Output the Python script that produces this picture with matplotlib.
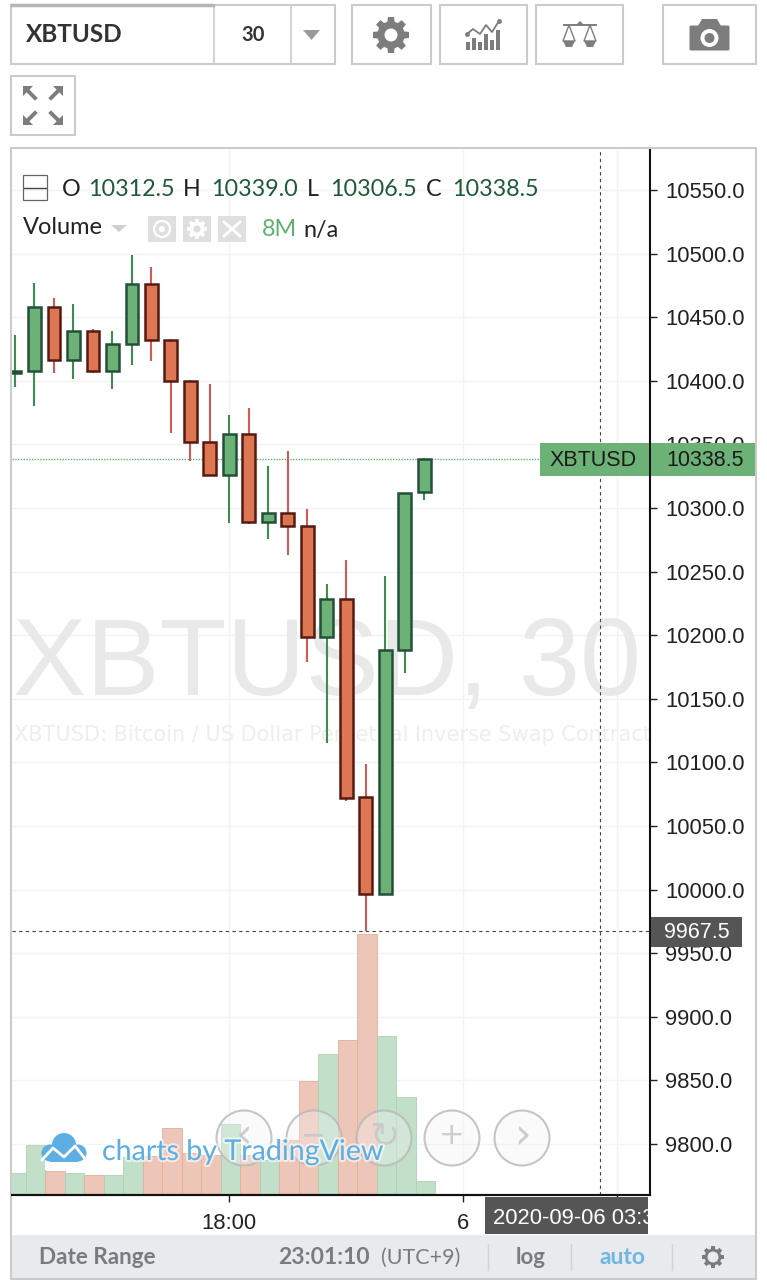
import numpy as np
import matplotlib
matplotlib.use("Agg")
import matplotlib.pyplot as plt
import matplotlib.patheffects as pe
from matplotlib.patches import Rectangle, Circle, Polygon, FancyBboxPatch

# ---- data ----
opens = [10406.4, 10408.0, 10458.3, 10416.0, 10439.0, 10408.0, 10429.0, 10475.9, 10432.0, 10400.0, 10352.0,
         10326.0, 10358.4, 10289.0, 10295.8, 10286.0, 10198.8, 10228.2, 10072.6, 9996.5, 10188.0, 10312.5]
highs = [10436.0, 10476.7, 10464.9, 10460.0, 10441.0, 10439.0, 10499.0, 10489.2, 10432.6, 10400.3, 10397.5,
         10373.3, 10378.4, 10333.3, 10344.6, 10299.5, 10240.0, 10259.0, 10099.0, 10246.5, 10312.0, 10339.0]
lows = [10395.0, 10380.4, 10406.0, 10401.2, 10406.0, 10393.3, 10412.4, 10415.6, 10359.2, 10337.0, 10326.0,
        10288.4, 10287.0, 10275.9, 10262.8, 10179.0, 10115.0, 10070.0, 9967.5, 9996.5, 10170.0, 10306.5]
closes = [10408.0, 10458.3, 10416.0, 10439.0, 10408.0, 10429.0, 10475.9, 10432.0, 10400.0, 10351.7, 10326.0,
          10358.4, 10289.0, 10295.8, 10285.8, 10198.8, 10228.2, 10072.0, 9996.5, 10188.4, 10312.0, 10338.5]
volumes = [2.0, 4.8, 2.2, 2.0, 1.8, 1.8, 3.6, 3.7, 6.5, 4.0, 3.8,
           6.9, 3.8, 3.3, 5.3, 11.2, 13.9, 15.3, 25.9, 15.7, 9.6, 1.2]
price_ticks = [9800, 9850, 9900, 9950, 10000, 10050, 10100, 10150, 10200, 10250, 10300, 10350, 10400, 10450, 10500, 10550]
time_ticks = [11, 23, 30.9]
time_labels = ["18:00", "6", ""]
last_price = 10338.5
cross_price = 9967.5
cross_index = 30.0

W, H = 767, 1280
GREEN, GREEN_E, GREEN_W = "#6cb276", "#24503a", "#3f8c50"
RED, RED_E, RED_W = "#dd7652", "#571a12", "#d05a58"
LEG_FONT = ["Lato", "DejaVu Sans"]
AX_FONT = ["Liberation Sans", "DejaVu Sans"]

fig = plt.figure(figsize=(W / 100, H / 100), dpi=100, facecolor="white")
L, R, T, B = 12, 650, 150, 1195
pos = [L / W, 1 - B / H, (R - L) / W, (B - T) / H]

# ---- price pane ----
ax = fig.add_axes(pos, zorder=1)
ax.set_xlim(-0.154, 32.58)
ax.set_ylim(9759.9, 10581.4)
ax.set_facecolor("white")
for s in ("left", "top"):
    ax.spines[s].set_visible(False)
for s in ("right", "bottom"):
    ax.spines[s].set_linewidth(1.5)
    ax.spines[s].set_color("#111111")
ax.yaxis.tick_right()
ax.set_yticks(price_ticks, [f"{p:.1f}" for p in price_ticks], fontsize=15.8, family=AX_FONT, color="#222222")
ax.set_xticks(time_ticks, time_labels, fontsize=15.8, family=AX_FONT, color="#222222")
ax.tick_params(axis="y", length=5, width=1, pad=6, color="#222222")
ax.tick_params(axis="x", length=5, width=1, pad=8, color="#222222")
ax.grid(True, color="#f2f3f5", lw=1)
ax.set_axisbelow(True)

ax.text(0.002, (B - 695) / (B - T), "XBTUSD, 30", transform=ax.transAxes, ha="left", va="baseline", fontsize=79,
        family=AX_FONT, color="#e9e9e9", zorder=1, clip_on=True)
ax.text(0.003, (B - 741) / (B - T), "XBTUSD: Bitcoin / US Dollar Perpetual Inverse Swap Contract",
        transform=ax.transAxes, ha="left", va="baseline", fontsize=15, family="DejaVu Sans",
        color="#eeeeee", zorder=1, clip_on=True)

x = np.arange(len(opens))
for i in x:
    up = closes[i] >= opens[i]
    ax.vlines(i, lows[i], highs[i], color=GREEN_W if up else RED_W, lw=1.5, zorder=3)
    bot, top = sorted((opens[i], closes[i]))
    ax.bar(i, top - bot, bottom=bot, width=0.66, color=GREEN if up else RED,
           edgecolor=GREEN_E if up else RED_E, lw=1.8, zorder=4)

# ---- current price + crosshair ----
ax.axhline(last_price, color="#5fb36d", lw=1.0, ls=(0, (1, 1)), zorder=2)
ax.axhline(cross_price, color="#444444", lw=0.8, ls=(0, (3, 3)), zorder=5)
ax.axvline(cross_index, color="#444444", lw=0.8, ls=(0, (3, 3)), zorder=5)

# ---- volume pane ----
vol = fig.add_axes(pos, zorder=2, sharex=ax, frameon=False)
vol.set_ylim(-0.17, 104.3)
vol.bar(x + 0.05, volumes, width=1.0,
        color=["#bfdfc6" if c >= o else "#eec3b3" for o, c in zip(opens, closes)],
        edgecolor=["#add2b4" if c >= o else "#e3ad9a" for o, c in zip(opens, closes)], lw=0.6, alpha=0.95)
vol.axis("off")

# ---- interface chrome, in pixels ----
ui = fig.add_axes([0, 0, 1, 1], zorder=3)
ui.set_xlim(0, W)
ui.set_ylim(H, 0)
ui.axis("off")
BORDER = "#c9cbcd"
ICON = "#7d7d7d"


def box(x0, y0, x1, y1, fc="none", ec=BORDER, lw=1.5, z=2, alpha=None):
    ui.add_patch(Rectangle((x0, y0), x1 - x0, y1 - y0, fc=fc, ec=ec, lw=lw, zorder=z, alpha=alpha))


def label(px, py, s, size, color="#222222", font=LEG_FONT, ha="left", **kw):
    return ui.text(px, py, s, fontsize=size, color=color, family=font, ha=ha, va="center", zorder=8, **kw)


# toolbar
box(11, 5, 335, 64)
ui.plot([214, 214], [5, 64], color=BORDER, lw=1.2)
ui.plot([291, 291], [5, 64], color=BORDER, lw=1.2)
ui.plot([12, 213], [5, 5], color="#b5b5b5", lw=2.5)
box(352, 5, 431, 64)
box(440, 5, 527, 64)
box(536, 5, 623, 64)
box(663, 5, 756, 64)
box(11, 76, 75, 135)
label(26, 35, "XBTUSD", 17.5, color="#333333", weight="bold")
label(253, 35, "30", 14.5, color="#333333", ha="center", weight="bold")
ui.add_patch(Polygon([[303, 30], [320, 30], [311.5, 40]], fc="#9a9a9a", ec="none"))


def gear(cx, cy, r, fc, hole="white", n=8, hr=.36):
    for a in np.arange(n) * 2 * np.pi / n:
        d = np.array([np.cos(a), np.sin(a)])
        p = np.array([-d[1], d[0]])
        c = np.array([cx, cy])
        ui.add_patch(Polygon([c + d * r * .7 + p * r * .2, c + d * r + p * r * .17,
                              c + d * r - p * r * .17, c + d * r * .7 - p * r * .2], fc=fc, ec="none", zorder=3))
    ui.add_patch(Circle((cx, cy), r * .76, fc=fc, ec="none", zorder=3))
    ui.add_patch(Circle((cx, cy), r * hr, fc=hole, ec="none", zorder=4))


gear(391, 35, 18, ICON)
# indicators icon
for bx, bh in zip([468, 474, 480, 486, 492, 498], [8, 12, 8, 16, 10, 20]):
    ui.add_patch(Rectangle((bx - 2, 50 - bh), 4, bh, fc=ICON, ec="none"))
ui.plot([467, 473, 480, 486, 492, 499], [34, 29, 34, 25, 32, 21], color=ICON, lw=1.3)
ui.plot([467, 499], [34, 21], ls="none", marker="o", ms=2.5, color=ICON)
# scales icon
ui.plot([564, 596], [25, 25], color=ICON, lw=1.4)
ui.plot([569, 563, 575, 569], [25, 41, 41, 25], color=ICON, lw=1.0)
ui.plot([590, 584, 596, 590], [25, 41, 41, 25], color=ICON, lw=1.0)
ui.add_patch(Polygon([[563, 41], [575, 41], [572, 47], [566, 47]], fc=ICON, ec="none"))
ui.add_patch(Polygon([[584, 41], [596, 41], [593, 47], [587, 47]], fc=ICON, ec="none"))
ui.add_patch(Polygon([[576, 25], [584, 25], [580, 21]], fc=ICON, ec="none"))
# camera icon
ui.add_patch(FancyBboxPatch((691, 27), 37, 22, boxstyle="round,pad=1.5", fc=ICON, ec="none"))
ui.add_patch(Polygon([[698, 26], [702, 19], [717, 19], [721, 26]], fc=ICON, ec="none"))
ui.add_patch(Circle((709.5, 38), 9, fc="white", ec="none", zorder=3))
ui.add_patch(Circle((709.5, 38), 5, fc=ICON, ec="none", zorder=4))
# expand icon
for (cx, cy, sx, sy) in [(30, 93, -1, -1), (56, 93, 1, -1), (30, 118, -1, 1), (56, 118, 1, 1)]:
    ui.add_patch(Polygon([[cx + sx * 7, cy + sy * 7], [cx + sx * 7, cy - sy * 3], [cx - sx * 3, cy + sy * 7]],
                         fc=ICON, ec="none"))
    ui.plot([cx + sx * 3, cx - sx * 5], [cy + sy * 3, cy - sy * 5], color=ICON, lw=2.8)

# chart frame + footer
box(12, 1235, 755, 1278, fc="#e9eaee", ec="none", z=1)
box(11, 148, 756, 1279, lw=1.5, z=2)
ui.plot([12, 650], [1195, 1195], color="#111111", lw=1.5)

# legend
box(23, 175, 47, 200, ec="#666666", lw=0.9, z=5)
ui.plot([24, 46], [188, 188], color="#444444", lw=1)
for px, s, dark in [(62, "O", 1), (88, "10312.5", 0), (183, "H", 1), (211, "10339.0", 0), (307, "L", 1),
                    (330, "10306.5", 0), (426, "C", 1), (452, "10338.5", 0)]:
    label(px, 189, s, 16.8, color="#222222" if dark else "#1f5a38")
label(23, 228, "Volume", 17, color="#222222")
ui.add_patch(Polygon([[111, 225], [127, 225], [119, 232]], fc="#cfcfcf", ec="none"))
for x0 in (148, 183, 218):
    box(x0, 216, x0 + 28, 242, fc="#dfdfdf", ec="none", z=3)
ui.add_patch(Circle((162, 229), 8, fc="none", ec="white", lw=1.6, zorder=4))
ui.add_patch(Circle((162, 229), 3, fc="white", ec="none", zorder=4))
gear(197, 229, 10, "white", hole="#dfdfdf")
ui.plot([224, 240], [222, 236], color="white", lw=2, zorder=4)
ui.plot([224, 240], [236, 222], color="white", lw=2, zorder=4)
label(262, 230, "8M", 16.8, color="#60b070")
label(303, 230, "n/a", 16.8, color="#222222")

# price labels
box(540, 443, 649, 476, fc="#6cb276", ec="none", z=5)
box(651, 443, 755, 476, fc="#6cb276", ec="none", z=5)
label(593, 460, "XBTUSD", 15.5, color="#1a1a1a", font=AX_FONT, ha="center")
label(705, 460, "10338.5", 15.5, color="#1a1a1a", font=AX_FONT, ha="center")
box(651, 917, 742, 947, fc="#555555", ec="none", z=5)
label(697, 932, "9967.5", 15.5, color="white", font=AX_FONT, ha="center")

# time label
box(485, 1197, 648, 1234, fc="#555555", ec="none", z=5)
t = label(493, 1218, "2020-09-06 03:30", 15.8, color="white", font=AX_FONT)
t.set_clip_path(Rectangle((485, 1197), 163, 37, transform=ui.transData))

# scroll buttons
for cx, glyph, fs in zip([244, 314, 384, 452, 522], ["\u2039", "\u2212", "\u21bb", "+", "\u203a"], [30, 22, 26, 22, 30]):
    ui.add_patch(Circle((cx, 1138), 27.5, fc=(0.95, 0.95, 0.95, 0.35), ec=(0.72, 0.72, 0.72, 0.8), lw=1.5, zorder=5))
    ui.text(cx, 1136, glyph, fontsize=fs, color="#c8c8c8", ha="center", va="center", zorder=6,
            family="DejaVu Sans", alpha=0.9)

# logo
LOGO = "#5dafe3"
glow = [pe.withStroke(linewidth=3, foreground="white", alpha=0.6)]
ui.add_patch(Rectangle((45, 1150), 78, 20, fc="white", ec="none", zorder=4))
for cx, cy, r in [(50, 1153, 8.5), (64, 1145, 12), (78, 1153, 8.5)]:
    ui.add_patch(Circle((cx, cy), r, fc=LOGO, ec="none", zorder=6))
ui.add_patch(Rectangle((50, 1150), 28, 12, fc=LOGO, ec="none", zorder=6))
ui.plot([42, 53, 64, 75, 86], [1160, 1148, 1157, 1146, 1160], color="white", lw=2, zorder=7)
label(102, 1152, "charts by TradingView", 20.6, color=LOGO, path_effects=glow)

# footer text
label(39, 1258, "Date Range", 16.2, color="#787b80", weight="bold")
label(278, 1258, "23:01:10", 16.5, color="#787b80", weight="bold")
label(381, 1258, "(UTC+9)", 15.5, color="#787b80")
label(516, 1258, "log", 16, color="#787b80", weight="bold")
label(599, 1258, "auto", 16.5, color="#6fb6e0", weight="bold")
for sx in (488, 571, 672):
    ui.plot([sx, sx], [1244, 1270], color="#d2d3d6", lw=1)
gear(713, 1257, 11, "#787b80", hole="#e9eaee", hr=.5)

fig.savefig("out.png", dpi=100)
